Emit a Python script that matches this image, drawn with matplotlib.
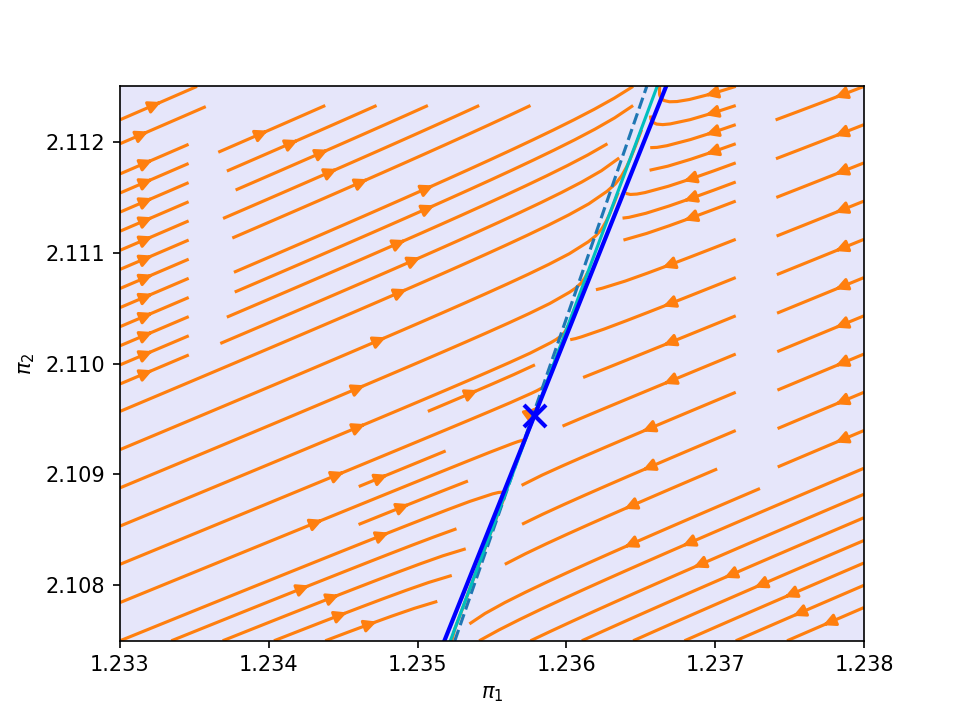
import numpy as np
import matplotlib
matplotlib.use("Agg")
import matplotlib.pyplot as plt

# Axis ranges
x_range = [1.233, 1.238]
y_range = [2.1075, 2.1125]

# Fixed point (cross marker)
fixed_point = [1.23579, 2.10953]

# Lines: x positions at bottom (y=2.1075) and top (y=2.1125)
blue_line_x = [1.23518, 1.23667]
cyan_line_x = [1.23522, 1.23661]
dashed_line_x = [1.23525, 1.23654]
line_y = [2.1075, 2.1125]

# Linearised dynamics: eigen-direction slopes and eigenvalues
steep_slope = 3.59
shallow_slope = 0.55
eig_steep = 0.03
eig_shallow = -1.0

# Regions where the vector field is undefined (pi1_min, pi1_max, pi2_min, pi2_max)
invalid_regions = [
    (1.23355, 1.23360, 2.11000, 2.11225),
    (1.23370, 1.23610, 2.11240, 2.11250),
    (1.23720, 1.23731, 2.10900, 2.11250),
]

fig, ax = plt.subplots(figsize=(6.4, 4.8), dpi=150)
ax.set_facecolor("lavender")

xs = np.linspace(x_range[0], x_range[1], 101)
ys = np.linspace(y_range[0], y_range[1], 101)
X, Y = np.meshgrid(xs, ys)
V = np.array([[1.0, 1.0], [steep_slope, shallow_slope]])
J = V @ np.diag([eig_steep, eig_shallow]) @ np.linalg.inv(V)
dX = X - fixed_point[0]
dY = Y - fixed_point[1]
U = J[0, 0] * dX + J[0, 1] * dY
W = J[1, 0] * dX + J[1, 1] * dY
tol = 1e-9
for x0, x1, y0, y1 in invalid_regions:
    m = (X >= x0 - tol) & (X <= x1 + tol) & (Y >= y0 - tol) & (Y <= y1 + tol)
    U[m] = np.nan
    W[m] = np.nan

ax.streamplot(X, Y, U, W, color="tab:orange", density=1.0, linewidth=1.5,
              arrowsize=1.2)

ax.plot(dashed_line_x, line_y, "--", color="tab:blue", lw=1.5)
ax.plot(cyan_line_x, line_y, "-", color="c", lw=1.5)
ax.plot(blue_line_x, line_y, "-", color="b", lw=2)
ax.plot([fixed_point[0]], [fixed_point[1]], "x", color="b", ms=11, mew=2)

ax.set_xlim(x_range)
ax.set_ylim(y_range)
ax.set_xticks([1.233, 1.234, 1.235, 1.236, 1.237, 1.238])
ax.set_yticks([2.108, 2.109, 2.110, 2.111, 2.112])
ax.set_xticklabels(["1.233", "1.234", "1.235", "1.236", "1.237", "1.238"])
ax.set_yticklabels(["2.108", "2.109", "2.110", "2.111", "2.112"])
ax.set_xlabel(r"$\pi_1$")
ax.set_ylabel(r"$\pi_2$")

fig.savefig("out.png", dpi=150)
